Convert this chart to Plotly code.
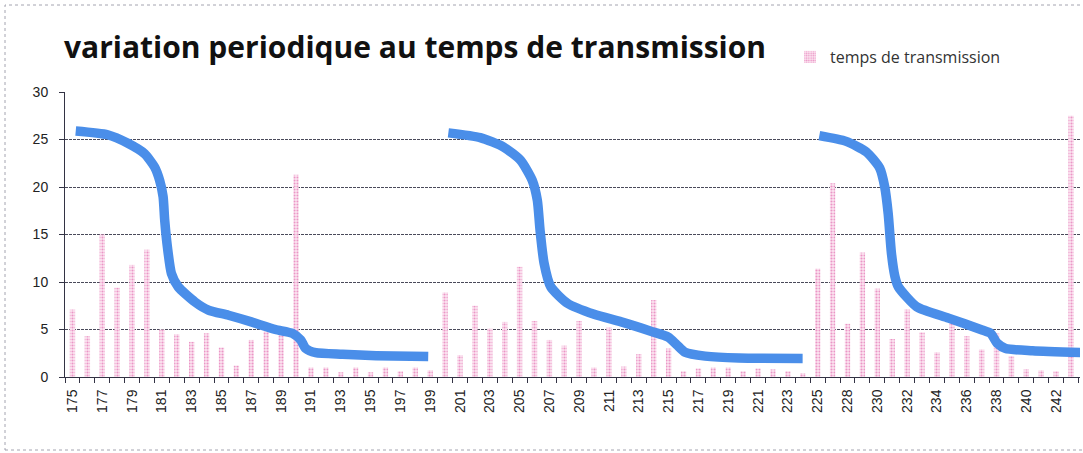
import plotly.graph_objects as go

# Sample numbers (x-axis categories)
categories = [175, 176, 177, 178, 179, 180, 181, 182, 183, 184, 185, 186, 187, 188,
              189, 190, 191, 192, 193, 194, 195, 196, 197, 198, 199, 200, 201, 202,
              203, 204, 205, 206, 207, 208, 209, 210, 211, 212, 213, 214, 215, 216,
              217, 218, 219, 220, 221, 222, 223, 224, 225, 227, 228, 229, 230, 231,
              232, 233, 234, 235, 236, 237, 238, 239, 240, 241, 242, 243]

# Transmission time per sample
temps_transmission = [7.1, 4.3, 15.0, 9.4, 11.8, 13.4, 5.0, 4.5, 3.7, 4.6, 3.1, 1.2, 3.9, 4.8,
                      4.5, 21.3, 1.0, 1.0, 0.5, 1.0, 0.5, 1.0, 0.6, 1.0, 0.7, 8.9, 2.3, 7.5,
                      5.1, 5.8, 11.6, 5.9, 3.9, 3.3, 5.9, 1.0, 5.2, 1.1, 2.4, 8.1, 3.0, 0.6,
                      0.9, 1.0, 1.0, 0.6, 0.9, 0.8, 0.6, 0.4, 11.4, 20.4, 5.6, 13.1, 9.3, 4.0,
                      7.1, 4.7, 2.6, 5.7, 4.3, 2.9, 4.6, 2.2, 0.8, 0.7, 0.6, 27.5]

# Hand-drawn periodic trend curves (x in category slots, y in seconds)
trend1_x = [0.22, 2.36, 3.72, 4.84, 5.51, 5.85, 6.08, 6.19, 6.37, 6.64, 7.09, 8.22, 9.12,
            10.47, 12.0, 13.62, 14.75, 15.31, 15.65, 16.32, 18.13, 20.38, 23.87]
trend1_y = [25.9, 25.5, 24.6, 23.5, 22.1, 20.7, 19.0, 16.5, 13.7, 10.9, 9.5, 7.9, 7.05,
            6.5, 5.8, 5.0, 4.6, 3.9, 3.0, 2.56, 2.4, 2.25, 2.15]

trend2_x = [25.22, 27.36, 28.93, 30.07, 30.85, 31.19, 31.37, 31.64, 32.09, 33.22, 35.0,
            36.82, 38.85, 39.97, 40.54, 41.1, 42.45, 44.7, 48.99]
trend2_y = [25.7, 25.2, 24.2, 22.8, 20.7, 18.6, 15.5, 12.0, 9.5, 7.75, 6.6,
            5.8, 4.8, 4.2, 3.4, 2.6, 2.2, 2.0, 1.96]

trend3_x = [50.11, 51.91, 53.26, 54.16, 54.5, 54.73, 54.95, 55.18, 55.41, 56.64, 58.78,
            61.03, 61.6, 62.05, 62.61, 64.42, 68.2]
trend3_y = [25.4, 24.8, 23.7, 22.0, 20.0, 17.2, 13.0, 10.6, 9.5, 7.4, 6.2,
            4.95, 4.6, 3.55, 3.0, 2.77, 2.56]

y_ticks = [0, 5, 10, 15, 20, 25, 30]

slots = list(range(len(categories)))
labels = [str(c) for c in categories]

W, H = 1083, 453
L, R, T, B = 65, 3, 92, 76
plot_w = W - L - R
plot_h = H - T - B

fig = go.Figure()

fig.add_trace(go.Bar(
    x=slots,
    y=temps_transmission,
    name="temps de transmission",
    width=0.36,
    marker=dict(
        color="#f7c8e0",
        line=dict(width=0),
        pattern=dict(shape=".", size=3, solidity=0.4,
                     fgcolor="#eb96c6", bgcolor="#fce6f2", fillmode="replace"),
    ),
    showlegend=True,
))

for tx, ty in [(trend1_x, trend1_y), (trend2_x, trend2_y), (trend3_x, trend3_y)]:
    fig.add_trace(go.Scatter(
        x=tx, y=ty, mode="lines",
        line=dict(color="#4a8ee9", width=9.5, shape="spline", smoothing=0.6),
        showlegend=False, hoverinfo="skip",
    ))

# outer chart frame
fig.add_shape(
    type="rect", xref="paper", yref="paper",
    x0=(5 - L) / plot_w, x1=(W + 5 - L) / plot_w,
    y0=(T + plot_h - 450) / plot_h, y1=(T + plot_h - 5) / plot_h,
    line=dict(color="#a4a4b0", width=1, dash="dot"),
    fillcolor="rgba(0,0,0,0)", layer="below",
)

fig.update_layout(
    width=W, height=H,
    margin=dict(l=L, r=R, t=T, b=B),
    paper_bgcolor="white",
    plot_bgcolor="white",
    title=dict(
        text="<b>variation periodique au temps de transmission</b>",
        x=64 / W, xanchor="left", xref="container",
        y=1 - 47 / H, yanchor="middle", yref="container",
        font=dict(family="Open Sans", size=30, color="#111111"),
    ),
    legend=dict(
        x=(790 - L) / plot_w, xanchor="left",
        y=(T + plot_h - 57) / plot_h, yanchor="middle",
        font=dict(family="Open Sans", size=16, color="#333333"),
        bgcolor="rgba(0,0,0,0)",
        itemwidth=30,
    ),
    xaxis=dict(
        range=[-0.5, len(categories) - 0.4],
        tickmode="array",
        tickvals=slots[::2],
        ticktext=labels[::2],
        tickangle=-90,
        ticks="",
        ticklabelstandoff=6,
        showgrid=False,
        showline=True, linecolor="#333344", linewidth=1,
        tickfont=dict(family="Liberation Sans", size=14, color="#222222"),
        minor=dict(ticks="outside", tick0=0.5, dtick=1, ticklen=5,
                   tickcolor="#333344", tickwidth=1, showgrid=False),
        zeroline=False,
    ),
    yaxis=dict(
        range=[0, 30],
        tickvals=y_ticks,
        ticks="outside", ticklen=5, tickcolor="#333344",
        ticklabelstandoff=8,
        showgrid=True, gridcolor="#4a4a5a", gridwidth=1, griddash="3px,1px",
        showline=True, linecolor="#333344", linewidth=1,
        tickfont=dict(family="Liberation Sans", size=14, color="#222222"),
        zeroline=False,
    ),
)

fig.write_html("out.html")
